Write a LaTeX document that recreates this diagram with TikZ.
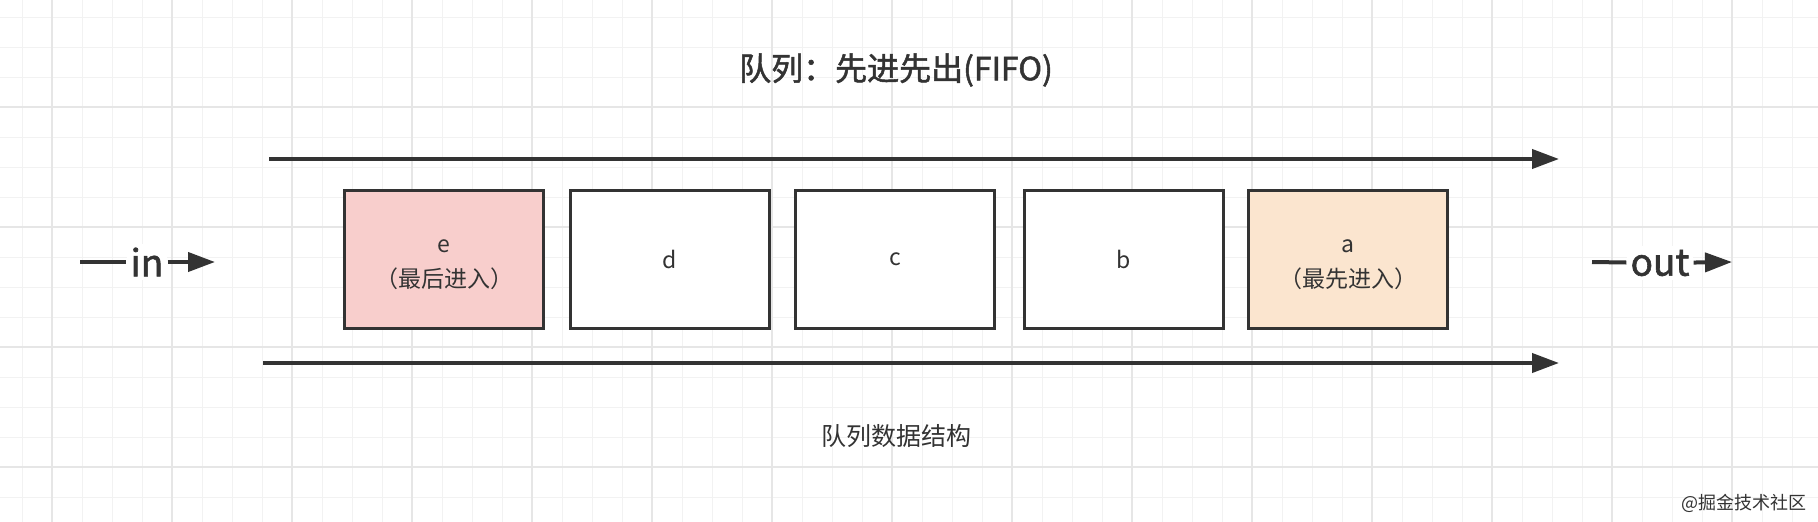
\documentclass[tikz,border=0pt]{standalone}
\usepackage{fontspec}
\setmainfont{Noto Sans CJK SC}
\newfontfamily\heavyfont{Noto Sans CJK SC}[FakeBold=1.6]
\usetikzlibrary{arrows.meta}
\definecolor{ink}{HTML}{333333}
\definecolor{lastin}{HTML}{F8CECC}
\definecolor{firstin}{HTML}{FBE5CF}
\definecolor{gridlo}{HTML}{F2F2F2}
\definecolor{gridhi}{HTML}{E6E6E6}

\begin{document}
\begin{tikzpicture}[x=1pt,y=-1pt,
  cell/.style={draw=ink,line width=3pt,minimum width=199pt,minimum height=138pt,
    inner sep=0pt,align=center,text=ink,font=\fontsize{23}{35}\selectfont},
  tag/.style={label={[text=ink,align=center,yshift=-6pt,font=\fontsize{23}{35}\selectfont]center:#1}},
  flow/.style={draw=ink,line width=4pt,-{Triangle[length=27pt,width=19pt]}},
  wire/.style={draw=ink,line width=4pt},
  io/.style={fill=white,text=ink,inner sep=4pt,font=\heavyfont\fontsize{37}{37}\selectfont}]
  \useasboundingbox (0,0) rectangle (1818,522);
  \fill[white] (0,0) rectangle (1818,522);

  % background grid
  \foreach \x in {22,52,...,1818} \draw[gridlo,line width=1pt] (\x,0)--(\x,522);
  \foreach \y in {17,47,...,522} \draw[gridlo,line width=1pt] (0,\y)--(1818,\y);
  \foreach \x in {52,172,...,1818} \draw[gridhi,line width=2pt] (\x,0)--(\x,522);
  \foreach \y in {107,227,...,522} \draw[gridhi,line width=2pt] (0,\y)--(1818,\y);

  \node[text=ink,font=\heavyfont\fontsize{32}{32}\selectfont] (title) at (896,70) {队列：先进先出(FIFO)};

  \node[cell,fill=lastin,tag={e\\（最后进入）}] (e) at (444,259) {};
  \node[cell,fill=white] (d) at (670,259) {d};
  \node[cell,fill=white] (c) at (895,259) {c};
  \node[cell,fill=white] (b) at (1124,259) {b};
  \node[cell,fill=firstin,tag={a\\（最先进入）}] (a) at (1348,259) {};

  \coordinate (topL) at (269,159);
  \coordinate (topR) at (1559,159);
  \coordinate (botL) at (263,363);
  \coordinate (botR) at (1559,363);
  \draw[flow] (topL)--(topR);
  \draw[flow] (botL)--(botR);

  \coordinate (inL) at (80,262);
  \coordinate (inR) at (215,262);
  \node[io] (in) at (147,262) {in};
  \draw[wire] (inL)--(in);
  \draw[flow] (in)--(inR);

  \coordinate (outL) at (1592,262);
  \coordinate (outR) at (1732,262);
  \node[io] (out) at (1660,263) {out};
  \draw[wire] (outL)--(out);
  \draw[flow] (out)--(outR);

  \node[text=ink,font=\fontsize{25}{25}\selectfont] (caption) at (896,436) {队列数据结构};
  \node[text=ink,font=\fontsize{18}{18}\selectfont] (mark) at (1744,503) {@掘金技术社区};
\end{tikzpicture}
\end{document}
